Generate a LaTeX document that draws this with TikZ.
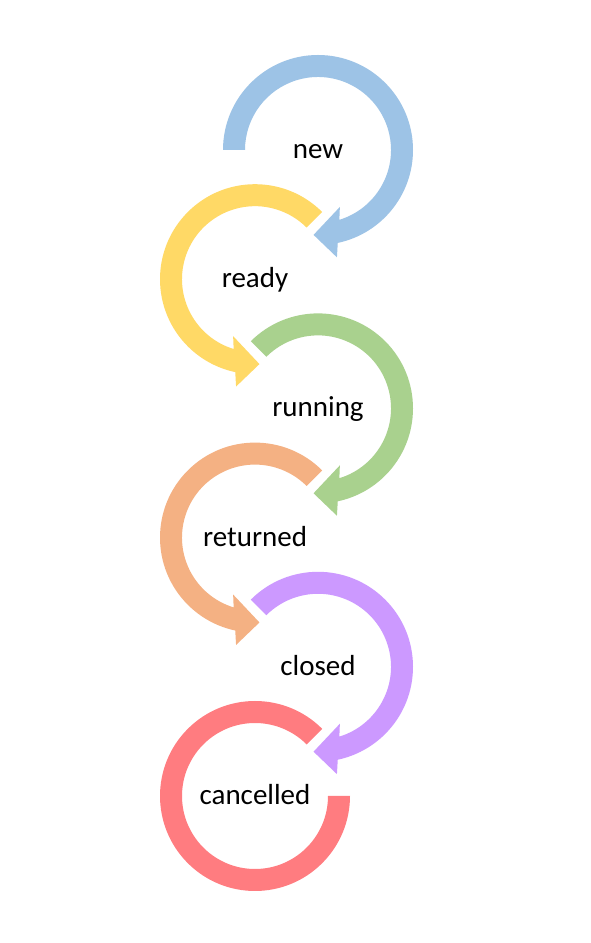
\documentclass[tikz,border=0pt]{standalone}
\usepackage{fontspec}
\setmainfont{Carlito}
\usepackage{tikz}
\usetikzlibrary{calc}

\definecolor{newblue}{HTML}{9DC3E6}
\definecolor{readyyellow}{HTML}{FFD966}
\definecolor{runninggreen}{HTML}{A9D18E}
\definecolor{returnedorange}{HTML}{F4B183}
\definecolor{closedpurple}{HTML}{CC99FF}
\definecolor{cancelledred}{HTML}{FF7C80}

% bent arrow round the origin, clockwise from angle #2, head at the bottom
\newcommand{\bentarrow}[2]{%
	\fill[#1] (#2:73) -- (#2:95) arc[start angle=#2, end angle=-78, radius=95]
		-- (-80:109) -- (-93:85) -- (-69:61) -- (-73:73)
		arc[start angle=-73, end angle=#2, radius=73] -- cycle;}

\tikzset{state/.style={font=\fontsize{29}{34}\selectfont, inner sep=0pt,
	text height=20pt, text depth=3pt}}

\begin{document}
\begin{tikzpicture}[x=1pt, y=1pt]
	\fill[white] (0,0) rectangle (591,943);
	\useasboundingbox (0,0) rectangle (591,943);
	\node[state] (new) at (318,793) {new};
	\node[state] (ready) at (255,663.8) {ready};
	\node[state] (running) at (318,534.6) {running};
	\node[state] (returned) at (255,405.4) {returned};
	\node[state] (closed) at (318,276.2) {closed};
	\node[state] (cancelled) at (255,147) {cancelled};
	\begin{scope}[shift={(new)}]
		\bentarrow{newblue}{180}
	\end{scope}
	\begin{scope}[shift={(ready)}, xscale=-1]
		\bentarrow{readyyellow}{135}
	\end{scope}
	\begin{scope}[shift={(running)}]
		\bentarrow{runninggreen}{135}
	\end{scope}
	\begin{scope}[shift={(returned)}, xscale=-1]
		\bentarrow{returnedorange}{135}
	\end{scope}
	\begin{scope}[shift={(closed)}]
		\bentarrow{closedpurple}{135}
	\end{scope}
	% last one: plain ring, no head
	\begin{scope}[shift={(cancelled)}]
		\fill[cancelledred] (45:73) -- (45:95) arc[start angle=45, end angle=360, radius=95]
			-- (0:73) arc[start angle=360, end angle=45, radius=73] -- cycle;
	\end{scope}
\end{tikzpicture}
\end{document}
